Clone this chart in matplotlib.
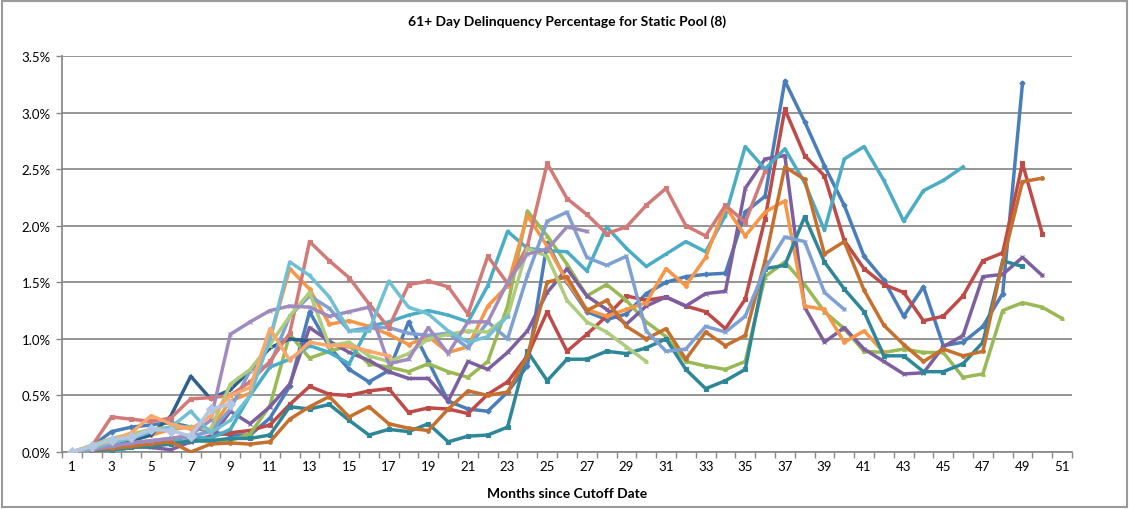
import matplotlib
matplotlib.use("Agg")
import matplotlib.pyplot as plt
from matplotlib.ticker import FixedLocator, FuncFormatter
from matplotlib.patches import Rectangle
import numpy as np

# Delinquency % (61+ days) by months since cutoff, one list per static pool series
blue = [0, 0.05, 0.18, 0.22, 0.24, 0.26, 0.22, 0.18, 0.15, 0.15, 0.3, 0.58, 1.24, 0.93, 0.73, 0.62, 0.72, 1.15, 0.8, 0.45,
        0.38, 0.36, 0.53, 0.76, 1.85, 1.5, 1.24, 1.17, 1.22, 1.4, 1.5, 1.55, 1.57, 1.58, 2.12, 2.26, 3.28, 2.92, 2.53, 2.18,
        1.73, 1.52, 1.2, 1.46, 0.94, 0.97, 1.11, 1.4, 3.26]
red = [0, 0.01, 0.02, 0.04, 0.06, 0.08, 0.1, 0.14, 0.17, 0.19, 0.24, 0.42, 0.58, 0.51, 0.5, 0.54, 0.56, 0.35, 0.39, 0.38,
       0.34, 0.51, 0.62, 0.85, 1.24, 0.89, 1.04, 1.2, 1.38, 1.34, 1.37, 1.29, 1.24, 1.09, 1.35, 2.06, 3.03, 2.62, 2.44, 1.87,
       1.62, 1.48, 1.41, 1.16, 1.2, 1.38, 1.69, 1.76, 2.55, 1.93]
green = [0, 0.05, 0.06, 0.07, 0.08, 0.08, 0.1, 0.09, 0.1, 0.16, 0.41, 1.04, 0.83, 0.89, 0.94, 0.78, 0.75, 0.71, 0.78, 0.71,
         0.66, 0.8, 1.29, 2.13, 1.91, 1.66, 1.38, 1.48, 1.34, 1.15, 1.02, 0.8, 0.76, 0.73, 0.8, 1.55, 1.68, 1.48, 1.24, 1.09,
         0.89, 0.88, 0.91, 0.88, 0.88, 0.66, 0.69, 1.25, 1.32, 1.28, 1.18]
purple = [0, 0.02, 0.04, 0.05, 0.04, 0.02, 0.09, 0.12, 0.36, 0.25, 0.4, 0.6, 1.1, 0.98, 0.88, 0.81, 0.71, 0.65, 0.65, 0.45,
          0.8, 0.73, 0.88, 1.07, 1.41, 1.62, 1.38, 1.26, 1.13, 1.29, 1.37, 1.29, 1.4, 1.42, 2.33, 2.59, 2.62, 1.28, 0.97, 1.1,
          0.91, 0.8, 0.69, 0.7, 0.93, 1.03, 1.55, 1.57, 1.72, 1.56]
aqua = [0, 0.0, 0.0, 0.04, 0.08, 0.1, 0.14, 0.12, 0.2, 0.5, 0.75, 0.82, 0.94, 0.88, 0.78, 1.11, 1.15, 1.21, 1.25, 1.21,
        1.15, 1.47, 1.95, 1.8, 1.78, 1.77, 1.6, 1.99, 1.8, 1.64, 1.75, 1.86, 1.77, 2.09, 2.7, 2.5, 2.68, 2.38, 1.96, 2.59,
        2.7, 2.4, 2.04, 2.31, 2.4, 2.52]
orange = [0, 0.03, 0.06, 0.1, 0.15, 0.2, 0.22, 0.2, 0.45, 0.52, 1.0, 1.62, 1.44, 1.13, 1.16, 1.11, 1.04, 0.95, 1.02, 0.88,
          0.93, 1.29, 1.47, 2.09, 1.82, 1.51, 1.26, 1.2, 1.26, 1.32, 1.62, 1.47, 1.72, 2.17, 1.91, 2.12, 2.22, 1.29, 1.26, 0.97,
          1.07, 0.88]
dark_blue = [0, 0.02, 0.06, 0.1, 0.15, 0.32, 0.67, 0.47, 0.55, 0.72, 0.92, 1.0, 0.98]
teal = [0, 0.01, 0.02, 0.04, 0.05, 0.07, 0.1, 0.1, 0.12, 0.12, 0.15, 0.4, 0.38, 0.42, 0.28, 0.15, 0.2, 0.18, 0.25, 0.09,
        0.14, 0.15, 0.22, 0.89, 0.63, 0.82, 0.82, 0.89, 0.87, 0.92, 1.0, 0.73, 0.56, 0.63, 0.73, 1.62, 1.65, 2.08, 1.68, 1.44,
        1.24, 0.85, 0.85, 0.71, 0.71, 0.78, 0.97, 1.69, 1.64]
brown = [0, 0.02, 0.03, 0.05, 0.07, 0.09, 0.0, 0.07, 0.08, 0.07, 0.09, 0.29, 0.4, 0.49, 0.31, 0.4, 0.25, 0.21, 0.19, 0.38,
         0.54, 0.5, 0.53, 0.85, 1.5, 1.55, 1.25, 1.34, 1.11, 1.0, 1.09, 0.82, 1.06, 0.94, 1.03, 1.69, 2.52, 2.41, 1.75, 1.86,
         1.43, 1.12, 0.95, 0.8, 0.91, 0.85, 0.89, 1.68, 2.39, 2.42]
periwinkle = [0, 0.03, 0.05, 0.08, 0.1, 0.12, 0.14, 0.18, 0.38, 0.72, 0.77, 1.2, 1.38, 1.27, 1.07, 1.1, 1.1, 1.05, 1.03, 1.05,
              0.92, 1.15, 1.0, 1.56, 2.04, 2.12, 1.72, 1.65, 1.73, 1.07, 0.89, 0.91, 1.11, 1.06, 1.2, 1.62, 1.9, 1.86, 1.41, 1.26]
pink = [0, 0.05, 0.31, 0.29, 0.27, 0.3, 0.47, 0.48, 0.5, 0.62, 0.8, 1.05, 1.86, 1.69, 1.54, 1.31, 1.1, 1.48, 1.51, 1.46,
        1.22, 1.73, 1.49, 1.82, 2.55, 2.24, 2.1, 1.93, 1.99, 2.18, 2.33, 2.0, 1.91, 2.18, 2.03, 2.48]
light_green = [0, 0.06, 0.12, 0.16, 0.2, 0.22, 0.22, 0.2, 0.6, 0.73, 0.95, 1.2, 1.41, 0.94, 0.97, 0.85, 0.8, 0.87, 1.0, 1.04,
               1.07, 1.06, 1.2, 1.8, 1.73, 1.34, 1.15, 1.06, 0.93, 0.8]
light_purple = [0, 0.02, 0.05, 0.08, 0.1, 0.12, 0.15, 0.28, 1.04, 1.15, 1.25, 1.29, 1.28, 1.2, 1.24, 1.28, 0.78, 0.82, 1.1,
                0.87, 1.15, 1.15, 1.5, 1.75, 1.79, 1.99, 1.95]
light_aqua = [0, 0.03, 0.08, 0.12, 0.18, 0.22, 0.36, 0.17, 0.28, 0.5, 1.0, 1.68, 1.56, 1.37, 1.07, 1.07, 1.51, 1.28, 1.22,
              1.07, 0.97, 1.02, 1.2]
salmon = [0, 0.05, 0.1, 0.17, 0.32, 0.25, 0.2, 0.32, 0.5, 0.57, 1.09, 0.81, 0.97, 0.94, 0.94, 0.89, 0.85]
pale_blue = [0, 0.05, 0.11, 0.13, 0.2, 0.19, 0.14, 0.38, 0.42]

x_tick_labels = [str(m) for m in range(1, 52, 2)]
y_ticks = [0.0, 0.5, 1.0, 1.5, 2.0, 2.5, 3.0, 3.5]

series = [
    (blue, "#4A7EBB", "D"),
    (red, "#BE4B48", "s"),
    (green, "#98B954", "^"),
    (purple, "#7D5FA0", "x"),
    (aqua, "#4BACC6", "*"),
    (orange, "#F79646", "o"),
    (dark_blue, "#2E5F8F", "+"),
    (teal, "#2D8798", "s"),
    (brown, "#C5702E", "o"),
    (periwinkle, "#7FA0D2", "x"),
    (pink, "#D17A78", "s"),
    (light_green, "#AFCB7C", "^"),
    (light_purple, "#A08BBE", "x"),
    (light_aqua, "#71BFD4", "*"),
    (salmon, "#F9A76A", "o"),
    (pale_blue, "#B3C7E3", "D"),
]

plt.rcParams["font.family"] = ["Lato", "DejaVu Sans"]

W, H = 1129, 510
fig = plt.figure(figsize=(W / 100, H / 100), dpi=100)
L, R, B, T = 62, 1072, 453, 57
ax = fig.add_axes([L / W, 1 - B / H, (R - L) / W, (B - T) / H])

for vals, col, mk in series:
    months = np.arange(1, len(vals) + 1)
    ms = 5 if vals is pale_blue else 2.6
    ax.plot(months, vals, color=col, lw=2.5, marker=mk, ms=ms, mew=0.8,
            mfc=col, mec=col, solid_joinstyle="round", zorder=3)

ax.set_xlim(0.5, 51.5)
ax.set_ylim(0, 3.5)
ax.yaxis.set_major_locator(FixedLocator(y_ticks))
ax.yaxis.set_major_formatter(FuncFormatter(lambda v, p: f"{v:.1f}%"))
ax.xaxis.set_major_locator(FixedLocator(list(range(1, 52, 2))))
ax.set_xticklabels(x_tick_labels)
ax.xaxis.set_minor_locator(FixedLocator([i + 0.5 for i in range(0, 52)]))
ax.tick_params(axis="x", which="major", length=0, labelsize=9.5, pad=6, colors="#000000")
ax.tick_params(axis="x", which="minor", length=4, width=1, color="#888888", direction="out")
ax.tick_params(axis="y", which="major", length=4, width=1, color="#888888", labelsize=9.5, pad=4)

ax.grid(axis="y", color="#8C8C8C", lw=1.3, zorder=1)
ax.set_axisbelow(True)
for s in ["top", "right"]:
    ax.spines[s].set_visible(False)
ax.spines["left"].set_color("#8C8C8C")
ax.spines["bottom"].set_color("#8C8C8C")
ax.spines["left"].set_linewidth(1.3)
ax.spines["bottom"].set_linewidth(1.3)

fig.text((L + R) / 2 / W, 1 - 22 / H, "61+ Day Delinquency Percentage for Static Pool (8)",
         ha="center", va="center", fontsize=10, fontweight="bold")
fig.text((L + R) / 2 / W, 1 - 494 / H, "Months since Cutoff Date",
         ha="center", va="center", fontsize=10, fontweight="bold")

fig.patches.append(Rectangle((2 / W, 2 / H), (W - 4) / W, (H - 4) / H, transform=fig.transFigure,
                             fill=False, edgecolor="#9A9A9A", lw=1.5))

fig.savefig("out.png", dpi=100)
